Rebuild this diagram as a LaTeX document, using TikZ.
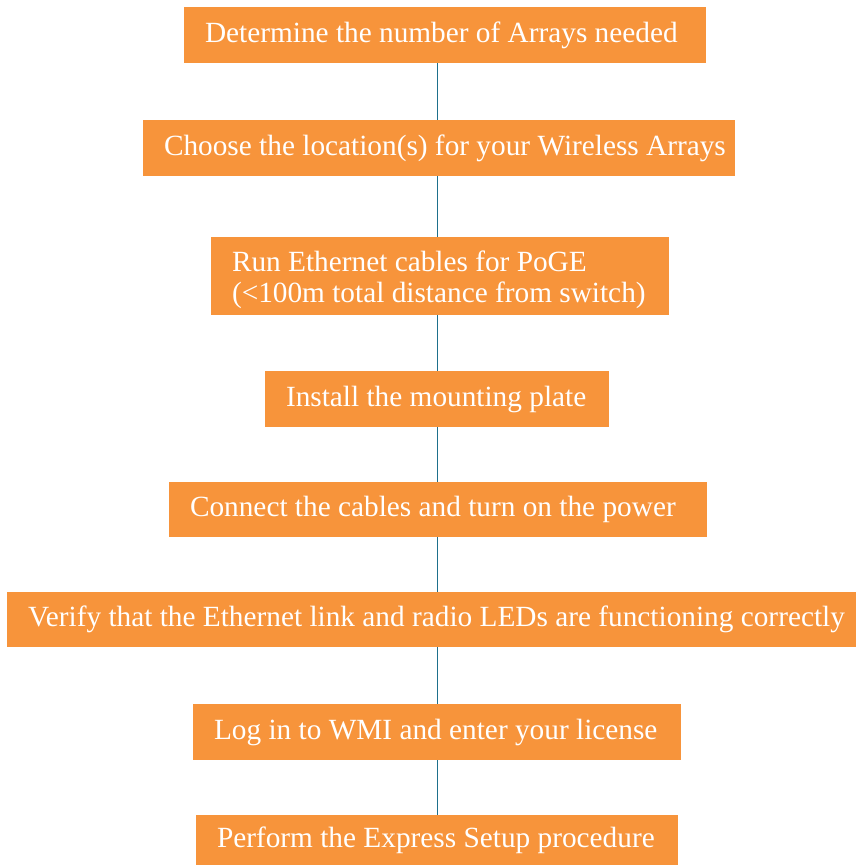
\documentclass[tikz,border=0pt]{standalone}
\usepackage{fontspec}
\setmainfont{Liberation Serif}
\definecolor{boxor}{RGB}{247,148,59}
\definecolor{lineteal}{RGB}{30,112,140}
\tikzset{
  stepbox/.style={fill=boxor, draw=none, text=white, inner xsep=21pt, inner ysep=0pt,
    font=\fontsize{29.3}{31}\selectfont, anchor=center},
  conn/.style={draw=lineteal, line width=1.5pt}
}
\newcommand{\bx}[2]{\makebox[\dimexpr #1pt-42pt\relax][l]{#2}}
\begin{document}
\begin{tikzpicture}[x=1pt,y=-1pt]
\useasboundingbox (0,0) rectangle (856,865);
\coordinate (lx) at (437.5,0);
\node[stepbox, minimum width=522pt, minimum height=56pt] (b1) at (445,35) {\bx{522}{Determine the number of Arrays needed}};
\node[stepbox, minimum width=592pt, minimum height=56pt] (b2) at (439,148) {\bx{592}{Choose the location(s) for your Wireless Arrays}};
\node[stepbox, minimum width=458pt, minimum height=78pt] (b3) at (440,276) {\bx{458}{\raisebox{-5pt}[\height][\depth]{\begin{tabular}{@{}l@{}}Run Ethernet cables for PoGE\\(<100m total distance from switch)\end{tabular}}}};
\node[stepbox, minimum width=344pt, minimum height=56pt] (b4) at (437,399) {\bx{344}{Install the mounting plate}};
\node[stepbox, minimum width=538pt, minimum height=55pt] (b5) at (438,509.5) {\bx{538}{Connect the cables and turn on the power}};
\node[stepbox, minimum width=849pt, minimum height=55pt] (b6) at (431.5,619.5) {\bx{849}{Verify that the Ethernet link and radio LEDs are functioning correctly}};
\node[stepbox, minimum width=488pt, minimum height=56pt] (b7) at (437,732) {\bx{488}{Log in to WMI and enter your license}};
\node[stepbox, minimum width=482pt, minimum height=50pt] (b8) at (437,840) {\bx{482}{Perform the Express Setup procedure}};
\foreach \a/\b in {b1/b2,b2/b3,b3/b4,b4/b5,b5/b6,b6/b7,b7/b8}
  \draw[conn] (\a.south -| lx) -- (\b.north -| lx);
\end{tikzpicture}
\end{document}
